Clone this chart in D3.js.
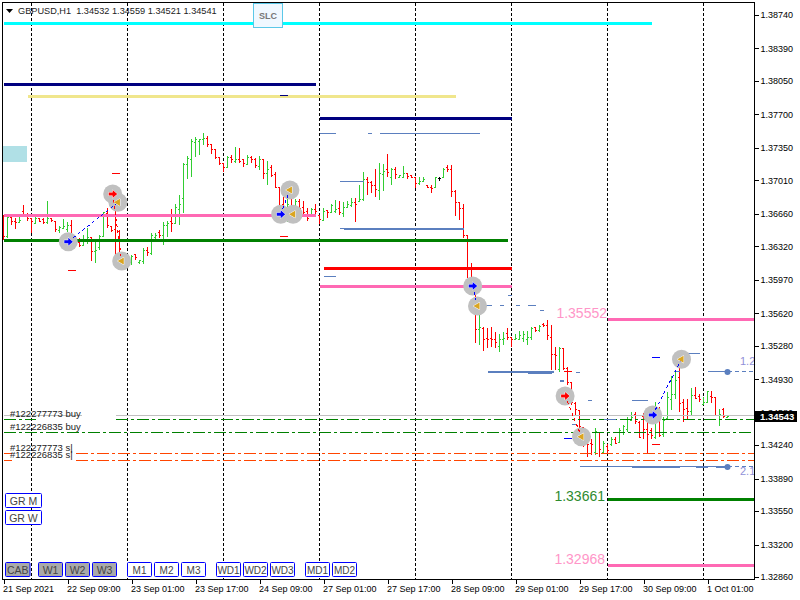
<!DOCTYPE html>
<html>
<head>
<meta charset="utf-8">
<script src="https://cdnjs.cloudflare.com/ajax/libs/d3/7.8.5/d3.min.js"></script>
<style>
html, body { margin: 0; padding: 0; background: #fff; }
svg { display: block; font-family: "Liberation Sans", Arial, sans-serif; }
line, rect.flat { shape-rendering: crispEdges; }
</style>
</head>
<body>
<script>
// hourly bars
const opens = [
1.3662,1.3642,1.3662,1.3658,1.3657,1.3668,1.3665,1.3661,1.3656,1.3661,
1.3660,1.3657,1.3661,1.3658,1.3649,1.3651,1.3650,1.3654,1.3639,1.3636,
1.3633,1.3638,1.3641,1.3627,1.3631,1.3642,1.3666,1.3653,1.3650,1.3647,
1.3617,1.3620,1.3615,1.3623,1.3615,1.3616,1.3628,1.3624,1.3641,1.3646,
1.3643,1.3654,1.3658,1.3656,1.3670,1.3682,1.3718,1.3723,1.3741,1.3742,
1.3744,1.3745,1.3738,1.3733,1.3725,1.3719,1.3714,1.3725,1.3721,1.3723,
1.3723,1.3718,1.3725,1.3723,1.3716,1.3723,1.3708,1.3714,1.3707,1.3693,
1.3676,1.3671,1.3683,1.3673,1.3679,1.3673,1.3668,1.3664,1.3671,1.3664,
1.3659,1.3669,1.3667,1.3668,1.3672,1.3666,1.3673,1.3675,1.3678,1.3679,
1.3681,1.3702,1.3699,1.3696,1.3690,1.3707,1.3712,1.3704,1.3712,1.3704,
1.3704,1.3708,1.3706,1.3704,1.3698,1.3700,1.3696,1.3694,1.3694,1.3703,
1.3704,1.3714,1.3712,1.3689,1.3678,1.3672,1.3643,1.3608,1.3596,1.3545,
1.3546,1.3536,1.3536,1.3534,1.3527,1.3534,1.3541,1.3537,1.3535,1.3535,
1.3536,1.3535,1.3537,1.3547,1.3544,1.3550,1.3549,1.3537,1.3519,1.3503,
1.3525,1.3504,1.3489,1.3468,1.3460,1.3442,1.3432,1.3426,1.3416,1.3437,
1.3416,1.3423,1.3425,1.3430,1.3427,1.3437,1.3440,1.3450,1.3456,1.3448,
1.3454,1.3440,1.3439,1.3432,1.3451,1.3435,1.3452,1.3472,1.3477,1.3495,
1.3469,1.3462,1.3459,1.3476,1.3475,1.3467,1.3469,1.3475,1.3474,1.3455,
1.3461,1.34532];
const highs = [
1.3665,1.3663,1.3663,1.3662,1.3663,1.3675,1.3667,1.3662,1.3663,1.3661,
1.3662,1.3679,1.3662,1.3658,1.3653,1.3661,1.3657,1.3660,1.3642,1.3641,
1.3644,1.3651,1.3642,1.3637,1.3644,1.3668,1.3672,1.3653,1.3688,1.3649,
1.3626,1.3621,1.3623,1.3624,1.3618,1.3630,1.3631,1.3646,1.3646,1.3649,
1.3657,1.3658,1.3671,1.3676,1.3686,1.3719,1.3726,1.3744,1.3746,1.3744,
1.3751,1.3747,1.3738,1.3733,1.3725,1.3719,1.3726,1.3728,1.3736,1.3735,
1.3723,1.3728,1.3726,1.3724,1.3727,1.3723,1.3721,1.3717,1.3710,1.3694,
1.3684,1.3684,1.3686,1.3681,1.3681,1.3679,1.3672,1.3672,1.3676,1.3665,
1.3672,1.3670,1.3676,1.3680,1.3679,1.3678,1.3679,1.3683,1.3683,1.3696,
1.3710,1.3704,1.3700,1.3713,1.3719,1.3718,1.3729,1.3714,1.3715,1.3707,
1.3716,1.3709,1.3707,1.3705,1.3704,1.3705,1.3696,1.3696,1.3705,1.3705,
1.3714,1.3717,1.3717,1.3691,1.3678,1.3676,1.3644,1.3615,1.3597,1.3563,
1.3548,1.3547,1.3548,1.3542,1.3540,1.3542,1.3546,1.3537,1.3540,1.3543,
1.3543,1.3543,1.3548,1.3548,1.3550,1.3552,1.3555,1.3550,1.3527,1.3527,
1.3526,1.3506,1.3490,1.3469,1.3461,1.3442,1.3437,1.3430,1.3442,1.3437,
1.3428,1.3425,1.3432,1.3432,1.3442,1.3445,1.3453,1.3459,1.3459,1.3449,
1.3458,1.3449,1.3442,1.3469,1.3464,1.3453,1.3480,1.3496,1.3501,1.3516,
1.3472,1.3472,1.3484,1.3485,1.3477,1.3474,1.3481,1.3481,1.3474,1.3462,
1.3463,1.34559];
const lows = [
1.3639,1.3641,1.3654,1.3650,1.3657,1.3664,1.3658,1.3646,1.3655,1.3657,
1.3655,1.3655,1.3657,1.3647,1.3646,1.3650,1.3647,1.3634,1.3631,1.3631,
1.3632,1.3634,1.3617,1.3615,1.3628,1.3642,1.3651,1.3647,1.3610,1.3618,
1.3616,1.3611,1.3612,1.3618,1.3614,1.3613,1.3622,1.3623,1.3636,1.3641,
1.3633,1.3642,1.3647,1.3655,1.3654,1.3667,1.3702,1.3705,1.3725,1.3728,
1.3738,1.3736,1.3729,1.3723,1.3717,1.3710,1.3714,1.3719,1.3719,1.3719,
1.3715,1.3717,1.3719,1.3714,1.3712,1.3702,1.3696,1.3704,1.3693,1.3670,
1.3660,1.3657,1.3663,1.3672,1.3667,1.3663,1.3658,1.3663,1.3665,1.3655,
1.3658,1.3662,1.3667,1.3667,1.3665,1.3663,1.3672,1.3673,1.3657,1.3679,
1.3679,1.3686,1.3688,1.3684,1.3680,1.3690,1.3704,1.3696,1.3702,1.3703,
1.3703,1.3702,1.3703,1.3693,1.3696,1.3699,1.3693,1.3688,1.3693,1.3700,
1.3704,1.3710,1.3684,1.3664,1.3659,1.3641,1.3599,1.3592,1.3531,1.3529,
1.3522,1.3526,1.3527,1.3526,1.3521,1.3529,1.3534,1.3527,1.3534,1.3534,
1.3532,1.3529,1.3534,1.3542,1.3542,1.3548,1.3534,1.3503,1.3503,1.3501,
1.3503,1.3487,1.3466,1.3456,1.3437,1.3422,1.3412,1.3414,1.3414,1.3412,
1.3416,1.3416,1.3423,1.3425,1.3426,1.3435,1.3438,1.3449,1.3446,1.3431,
1.3430,1.3416,1.3430,1.3430,1.3433,1.3433,1.3451,1.3461,1.3472,1.3459,
1.3448,1.3450,1.3456,1.3472,1.3469,1.3466,1.3468,1.3468,1.3454,1.3444,
1.3452,1.34521];
const closes = [
1.3642,1.3662,1.3658,1.3657,1.3659,1.3665,1.3661,1.3658,1.3661,1.3658,
1.3657,1.3661,1.3659,1.3650,1.3652,1.3653,1.3654,1.3638,1.3635,1.3633,
1.3638,1.3641,1.3627,1.3628,1.3642,1.3667,1.3654,1.3649,1.3616,1.3626,
1.3624,1.3615,1.3621,1.3620,1.3617,1.3628,1.3625,1.3643,1.3643,1.3643,
1.3654,1.3656,1.3656,1.3673,1.3676,1.3718,1.3724,1.3742,1.3744,1.3744,
1.3745,1.3739,1.3733,1.3725,1.3719,1.3714,1.3725,1.3723,1.3723,1.3721,
1.3719,1.3725,1.3723,1.3717,1.3723,1.3708,1.3712,1.3706,1.3694,1.3675,
1.3672,1.3676,1.3670,1.3679,1.3672,1.3667,1.3661,1.3670,1.3668,1.3660,
1.3668,1.3667,1.3675,1.3671,1.3667,1.3673,1.3676,1.3678,1.3676,1.3681,
1.3702,1.3699,1.3696,1.3691,1.3708,1.3710,1.3709,1.3712,1.3707,1.3706,
1.3708,1.3705,1.3704,1.3698,1.3700,1.3702,1.3694,1.3692,1.3704,1.3703,
1.3712,1.3712,1.3689,1.3678,1.3672,1.3643,1.3608,1.3599,1.3545,1.3547,
1.3535,1.3534,1.3534,1.3531,1.3534,1.3536,1.3537,1.3535,1.3536,1.3539,
1.3540,1.3537,1.3546,1.3544,1.3548,1.3549,1.3539,1.3519,1.3518,1.3525,
1.3504,1.3489,1.3469,1.3461,1.3443,1.3430,1.3425,1.3425,1.3438,1.3419,
1.3426,1.3418,1.3430,1.3426,1.3439,1.3443,1.3451,1.3453,1.3449,1.3432,
1.3440,1.3435,1.3434,1.3451,1.3434,1.3450,1.3474,1.3477,1.3492,1.3468,
1.3461,1.3459,1.3476,1.3473,1.3472,1.3469,1.3480,1.3474,1.3455,1.3456,
1.3454,1.34541];

const priceTicks = [1.3874,1.3839,1.3805,1.377,1.3735,1.3701,1.3666,1.3632,1.3597,1.3562,1.3528,1.3493,1.3458,1.3424,1.3389,1.3355,1.332,1.3286];
const timeTickBars = [0,16,32,48,64,80,96,112,128,144,160,176];
const timeTickLabels = ["21 Sep 2021","22 Sep 09:00","23 Sep 01:00","23 Sep 17:00","24 Sep 09:00","27 Sep 01:00","27 Sep 17:00","28 Sep 09:00","29 Sep 01:00","29 Sep 17:00","30 Sep 09:00","1 Oct 01:00"];
const dayStartBars = [7,31,55,79,103,127,151,175];

// horizontal levels
const levelPrices = [1.38651,1.38013,1.37887,1.37662,1.36644,1.36383,1.3609,1.35902,1.35556,1.33673,1.32983];
const levelStart = [0,0,6,79,0,0,80,79,151,151,151];
const levelEnd = [162,78,113,127,78,126,127,127,187.6,187.6,187.6];
const levelLabels = ["1.35552","1.33661","1.32968"];
const levelLabelPrices = [1.3557,1.33655,1.33];

// open orders, [start bar, end bar, price]
const bidLine = [[0,19.5,1.34552],[28,187.6,1.34552]];
const buyOrders = [[0,8,1.3451],[28,187.6,1.3451],[0,187.6,1.34374]];
const sellOrders = [[0,2,1.34155],[18,187.6,1.34155],[0,2,1.34082],[18,187.6,1.34082]];
const orderLabels = ["#122277773 buy","#122226835 buy","#122277773 s|","#122226835 s|"];
const orderLabelPrices = [1.34534,1.34398,1.34178,1.34105];

// thin and thick pieces of the blue-grey lines, [start bar, end bar, price]
const zoneThin = [[79,83,1.37502],[91,92,1.37502],[94,119,1.37502],[84,90,1.37],[84,85,1.36504],[80,83,1.36006],
  [126,127,1.35808],[120,122,1.35703],[124,125,1.35703],[128,129,1.35703],[131,133,1.35703],[134,135,1.35651],
  [143,144,1.35002],[146,147,1.34709],[142,143,1.34458],[144,157,1.34011],[169,173,1.34011],[176,178,1.34011],
  [176,181,1.35005],[167.5,169,1.35005],[170,174,1.35201],[157,161,1.34709],[150,153,1.3451]];
const zoneThick = [[85,115,1.36504],[121,137.5,1.35005],[131,137,1.34995],[139,140,1.34911],
  [157,169,1.34011],[173,176,1.34011],[178,181,1.34011]];
const zoneEndPrices = [1.35005,1.34011];
const zoneEndBar = 181;
const zoneLabels = ["1.2","2.1"];
const zoneLabelPrices = [1.3508,1.3393];

// short stop marks
const redMarks = [[27,29,1.37077],[16,18,1.36072],[69,71,1.36425],[162,164,1.34249],[140,142,1.35008]];
const blueMarks = [[162,164,1.35159],[140,142,1.34311],[69,71,1.379]];

// trades, bar and price of each arrow
const buyBars = [16.2,69.3,117.3,162.3];
const buyPrices = [1.36368,1.36655,1.35905,1.34555];
const sellBars = [27.3,140.4];
const sellPrices = [1.36867,1.34754];
const closeBars = [28.6,29.55,71.6,72.4,118.5,144.5,169.5];
const closePrices = [1.3678,1.36166,1.36909,1.36655,1.35695,1.34328,1.35138];
// entry -> exit, index into the arrays above
const buyToClose = [[0,0],[1,2],[2,4],[3,6]];
const sellToClose = [[0,1],[1,5]];

const headerText = "GBPUSD,H1  1.34532 1.34559 1.34521 1.34541";
const lastPrice = 1.34543;

const grayButtons = ["CAB","W1","W2","W3"];
const whiteButtons = ["M1","M2","M3","WD1","WD2","WD3","MD1","MD2"];

const width = 800, height = 600;
const svg = d3.select("body").append("svg").attr("width", width).attr("height", height);

const x = d3.scaleLinear().domain([0, 188]).range([3.5, 755.5]);
const y = d3.scaleLinear().domain([1.3286, 1.3874]).range([577, 15]);

//grid of day separators
svg.append("g").selectAll("line").data(dayStartBars).join("line")
    .attr("x1", d => x(d)).attr("x2", d => x(d))
    .attr("y1", 3).attr("y2", 579)
    .attr("stroke", "#000").attr("stroke-dasharray", "3,2");

//light blue box at the left
svg.append("rect").attr("class", "flat")
    .attr("x", 3).attr("y", 146).attr("width", 24).attr("height", 16)
    .attr("fill", "#b0e0e6");

//bars
const bars = svg.append("g").selectAll("g").data(closes).join("g")
    .attr("stroke", (c, i) => c > opens[i] ? "#32cd32" : c < opens[i] ? "#ff0000" : "#000");
bars.append("line")
    .attr("x1", (c, i) => x(i)).attr("x2", (c, i) => x(i))
    .attr("y1", (c, i) => y(highs[i])).attr("y2", (c, i) => y(lows[i]));
bars.append("line")
    .attr("x1", (c, i) => x(i) - 1.5).attr("x2", (c, i) => x(i))
    .attr("y1", (c, i) => y(opens[i])).attr("y2", (c, i) => y(opens[i]));
bars.append("line")
    .attr("x1", (c, i) => x(i)).attr("x2", (c, i) => x(i) + 1.5)
    .attr("y1", c => y(c)).attr("y2", c => y(c));

function segments(data, color, w, dash) {
    return svg.append("g").selectAll("line").data(data).join("line")
        .attr("x1", d => x(d[0])).attr("x2", d => x(d[1]))
        .attr("y1", d => y(d[2])).attr("y2", d => y(d[2]))
        .attr("stroke", color).attr("stroke-width", w)
        .attr("stroke-dasharray", dash || null);
}

//order lines
segments(bidLine, "#c0c0c0", 1);
segments(buyOrders, "#008000", 1, "12,3,3,3");
segments(sellOrders, "#ff4500", 1, "12,3,3,3");

//blue-grey zones
const zoneColor = "#5b7fbf";
segments(zoneThin, zoneColor, 1);
segments(zoneThick, zoneColor, 2);
segments(zoneEndPrices.map(p => [zoneEndBar, 187.6, p]), zoneColor, 1, "4,3");
svg.append("g").selectAll("circle").data(zoneEndPrices).join("circle")
    .attr("cx", x(zoneEndBar)).attr("cy", d => y(d)).attr("r", 3)
    .attr("fill", zoneColor);

//levels
const levelColors = ["#00ffff","#000080","#f0e68c","#000080","#ff69b4","#008000","#ff0000","#ff69b4","#ff69b4","#008000","#ff69b4"];
svg.append("g").selectAll("line").data(levelPrices).join("line")
    .attr("x1", (d, i) => x(levelStart[i])).attr("x2", (d, i) => x(levelEnd[i]))
    .attr("y1", d => y(d)).attr("y2", d => y(d))
    .attr("stroke", (d, i) => levelColors[i]).attr("stroke-width", 3);

segments(redMarks, "#ff0000", 1);
segments(blueMarks.slice(0, 2), "#0000ff", 1);
segments(blueMarks.slice(2), "#000080", 1);

//grey discs behind the trade arrows
const allBars = buyBars.concat(sellBars, closeBars);
const allPrices = buyPrices.concat(sellPrices, closePrices);
svg.append("g").selectAll("circle").data(allBars).join("circle")
    .attr("cx", d => x(d)).attr("cy", (d, i) => y(allPrices[i])).attr("r", 9.5)
    .attr("fill", "#c0c0c0");

//dotted trade lines
function tradeLines(pairs, barsIn, pricesIn, color) {
    svg.append("g").selectAll("line").data(pairs).join("line")
        .attr("x1", d => x(barsIn[d[0]])).attr("y1", d => y(pricesIn[d[0]]))
        .attr("x2", d => x(closeBars[d[1]])).attr("y2", d => y(closePrices[d[1]]))
        .attr("stroke", color).attr("stroke-dasharray", "3,3");
}
tradeLines(buyToClose, buyBars, buyPrices, "#0000ff");
tradeLines(sellToClose, sellBars, sellPrices, "#ff0000");

//arrows
const arrowPath = "M-4,-1.5H0V-4L4.5,0L0,4V1.5H-4Z";
function arrows(barsIn, pricesIn, color) {
    svg.append("g").selectAll("path").data(barsIn).join("path")
        .attr("d", arrowPath)
        .attr("transform", (d, i) => `translate(${x(d)},${y(pricesIn[i])})`)
        .attr("fill", color).attr("stroke", "#fff").attr("stroke-width", 1)
        .attr("paint-order", "stroke");
}
arrows(buyBars, buyPrices, "#0000ff");
arrows(sellBars, sellPrices, "#ff0000");
svg.append("g").selectAll("path").data(closeBars).join("path")
    .attr("d", d3.symbol(d3.symbolTriangle, 22))
    .attr("transform", (d, i) => `translate(${x(d)},${y(closePrices[i])}) rotate(-90)`)
    .attr("fill", "#daa520").attr("stroke", "#fff").attr("stroke-width", 1)
    .attr("paint-order", "stroke");

//order and level labels
svg.append("g").selectAll("text").data(orderLabels).join("text")
    .attr("x", 10).attr("y", (d, i) => y(orderLabelPrices[i]))
    .attr("font-size", 9.5).attr("fill", "#222").text(d => d);

svg.append("g").selectAll("text").data(levelLabels).join("text")
    .attr("x", (d, i) => i ? 605 : 607).attr("y", (d, i) => y(levelLabelPrices[i]))
    .attr("text-anchor", "end").attr("font-size", 14)
    .attr("fill", (d, i) => i === 1 ? "#2e8b2e" : "#ff96c8").text(d => d);

svg.append("g").selectAll("text").data(zoneLabels).join("text")
    .attr("x", 740).attr("y", (d, i) => y(zoneLabelPrices[i]))
    .attr("font-size", 11).attr("fill", "#9090d8").text(d => d);

//frame and axes
const yAxis = d3.axisRight(y).tickValues(priceTicks).tickSize(4).tickPadding(2)
    .tickFormat(d3.format(".5f"));
const axisR = svg.append("g").attr("transform", "translate(754.5,0)").call(yAxis);
axisR.select(".domain").remove();
axisR.selectAll("text").attr("font-size", 9).attr("font-family", null).attr("fill", "#000");

const xAxis = d3.axisBottom(x).tickValues(timeTickBars).tickSize(4).tickPadding(2)
    .tickFormat((d, i) => timeTickLabels[i]);
const axisB = svg.append("g").attr("transform", "translate(0,579.5)").call(xAxis);
axisB.select(".domain").remove();
axisB.selectAll("text").attr("font-size", 9).attr("font-family", null).attr("text-anchor", "start")
    .attr("dx", -1).attr("fill", "#000");

svg.append("rect").attr("class", "flat")
    .attr("x", 2.5).attr("y", 2.5).attr("width", 752).attr("height", 577)
    .attr("fill", "none").attr("stroke", "#000");

//current price tag
svg.append("rect").attr("class", "flat")
    .attr("x", 755).attr("y", y(lastPrice) - 5).attr("width", 42).attr("height", 11)
    .attr("fill", "#000");
svg.append("text").attr("x", 760).attr("y", y(lastPrice) + 3.5)
    .attr("font-size", 9.5).attr("font-weight", "bold").attr("fill", "#fff")
    .text(d3.format(".5f")(lastPrice));

//header
svg.append("path").attr("d", "M6,9H13L9.5,13Z").attr("fill", "#000");
svg.append("text").attr("x", 18).attr("y", 14)
    .attr("font-size", 9.2).attr("fill", "#222")
    .style("white-space", "pre").text(headerText);

//buttons
function button(label, bx, by, bw, fill, fs) {
    svg.append("rect").attr("x", bx).attr("y", by).attr("width", bw).attr("height", 14)
        .attr("rx", 1).attr("fill", fill).attr("stroke", "#0000ff");
    svg.append("text").attr("x", bx + bw / 2).attr("y", by + 11)
        .attr("text-anchor", "middle").attr("font-size", fs).attr("fill", "#444").text(label);
}
button("GR M", 5.5, 493.5, 36, "#fff", 10.5);
button("GR W", 5.5, 510.5, 36, "#fff", 10.5);
const grayX = [5.5, 38.5, 65.5, 92.5];
grayButtons.forEach((b, i) => button(b, grayX[i], 562.5, i ? 24 : 24.5, "#a9a9a9", 10.5));
const whiteX = [127.5, 154.5, 181.5, 216.5, 243.5, 270.5, 305.5, 332.5];
whiteButtons.forEach((b, i) => button(b, whiteX[i], 562.5, 24, "#fff", 10));

//SLC button
svg.append("rect").attr("x", 253.5).attr("y", 3.5).attr("width", 29).attr("height", 24)
    .attr("fill", "#f0f8ff").attr("stroke", "#5bc8e8");
svg.append("text").attr("x", 268).attr("y", 19).attr("text-anchor", "middle")
    .attr("font-size", 9).attr("font-weight", "bold").attr("fill", "#777").text("SLC");
</script>
</body>
</html>
